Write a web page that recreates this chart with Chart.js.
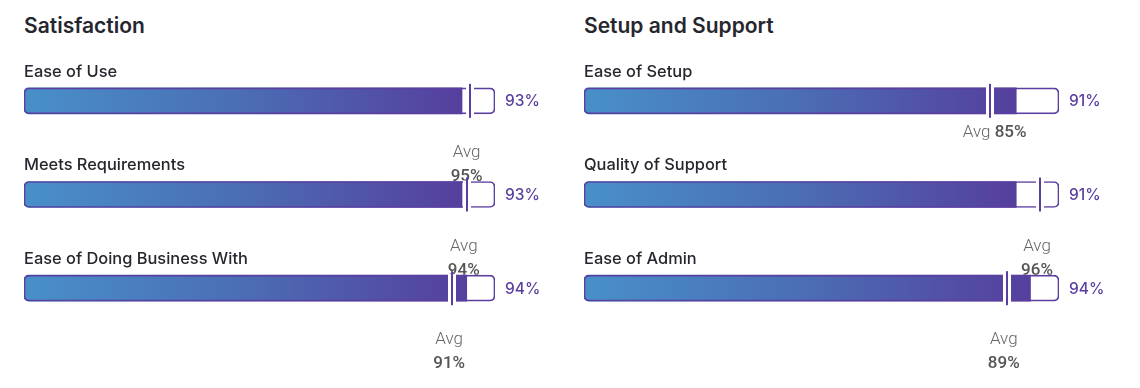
<!DOCTYPE html>
<html>
<head>
<meta charset="utf-8">
<script src="https://cdn.jsdelivr.net/npm/chart.js@4.4.1/dist/chart.umd.min.js"></script>
<style>
  body { margin: 0; background: #fff; width: 1140px; height: 388px; position: relative; overflow: hidden; }
  .panel-title { position: absolute; top: 13px; font-family: Inter, "Noto Sans", sans-serif; font-size: 21px; font-weight: 600; color: #26262e; }
  canvas { position: absolute; top: 0; }
</style>
</head>
<body>
<div class="panel-title" style="left:24px">Satisfaction</div>
<div class="panel-title" style="left:584px">Setup and Support</div>
<canvas id="chartSatisfaction" width="560" height="388" style="left:0"></canvas>
<canvas id="chartSupport" width="580" height="388" style="left:560px"></canvas>

<script>
// satisfaction panel
var satisfactionLabels = ['Ease of Use', 'Meets Requirements', 'Ease of Doing Business With'];
var satisfactionScores = [93, 93, 94];
var satisfactionAvg = [94.6, 94, 90.9];

// setup and support panel
var supportLabels = ['Ease of Setup', 'Quality of Support', 'Ease of Admin'];
var supportScores = [91, 91, 94];
var supportAvg = [85.4, 96, 89];

var purple = '#5b3fa0';

// gradient for the filled part of a bar
function fillGradient(context) {
  var chart = context.chart;
  var area = chart.chartArea;
  if (!area || !chart.scales.x) return '#4c6db5';
  var end = chart.scales.x.getPixelForValue(context.raw);
  var g = chart.ctx.createLinearGradient(area.left, 0, end, 0);
  g.addColorStop(0, '#4890c9');
  g.addColorStop(0.5, '#4b6db4');
  g.addColorStop(1, '#563f9d');
  return g;
}

// avg text goes under the bars, markers and labels on top
var ratingPlugin = {
  id: 'ratingPlugin',
  beforeDatasetsDraw: function (chart) {
    var ctx = chart.ctx;
    var x = chart.scales.x;
    var y = chart.scales.y;
    var avg = chart.options.plugins.ratingPlugin.avg;
    var inlineFirst = chart.options.plugins.ratingPlugin.inlineFirst;
    ctx.save();
    ctx.textBaseline = 'middle';
    avg.forEach(function (a, i) {
      var px = x.getPixelForValue(a);
      var bottom = y.getPixelForValue(i) + 13;
      var txt = Math.round(a) + '%';
      if (inlineFirst && i === 0) {
        ctx.font = '300 17px Roboto';
        var w1 = ctx.measureText('Avg ').width;
        ctx.font = '500 17px Roboto';
        var w2 = ctx.measureText(txt).width;
        var start = px + 5 - (w1 + w2) / 2;
        ctx.textAlign = 'left';
        ctx.font = '300 17px Roboto';
        ctx.fillStyle = '#666';
        ctx.fillText('Avg ', start, bottom + 19);
        ctx.font = '500 17px Roboto';
        ctx.fillStyle = '#555';
        ctx.fillText(txt, start + w1, bottom + 19);
      } else {
        ctx.textAlign = 'center';
        ctx.font = '300 17px Roboto';
        ctx.fillStyle = '#666';
        ctx.fillText('Avg', px - 3, bottom + 39);
        ctx.font = '500 17px Roboto';
        ctx.fillStyle = '#555';
        ctx.fillText(txt, px - 3, bottom + 63);
      }
    });
    ctx.restore();
  },
  afterDatasetsDraw: function (chart) {
    var ctx = chart.ctx;
    var x = chart.scales.x;
    var y = chart.scales.y;
    var opts = chart.options.plugins.ratingPlugin;
    ctx.save();
    opts.avg.forEach(function (a, i) {
      var px = Math.round(x.getPixelForValue(a));
      var cy = y.getPixelForValue(i);
      ctx.fillStyle = '#fff';
      ctx.fillRect(px - 4, cy - 14, 8, 28);
      ctx.fillStyle = purple;
      ctx.fillRect(px - 1, cy - 17, 2, 34);
    });
    ctx.textBaseline = 'middle';
    chart.data.labels.forEach(function (label, i) {
      var cy = y.getPixelForValue(i);
      ctx.textAlign = 'left';
      ctx.font = '500 16.4px Inter';
      ctx.fillStyle = '#26262e';
      ctx.fillText(label, chart.chartArea.left, cy - 29);
      ctx.font = '500 15.5px Inter';
      ctx.fillStyle = purple;
      ctx.fillText(opts.scores[i] + '%', chart.chartArea.right + 10, cy + 1);
    });
    ctx.restore();
  }
};

function makeChart(id, labels, scores, avg, rightPad, inlineFirst) {
  var track = labels.map(function () { return 100; });
  var config = {
    type: 'bar',
    data: {
      labels: labels,
      datasets: [
        {
          // outline on top
          data: track,
          backgroundColor: 'rgba(0,0,0,0)',
          borderColor: purple,
          borderWidth: 1,
          borderRadius: 5,
          borderSkipped: false,
          barThickness: 26,
          grouped: false
        },
        {
          data: scores,
          backgroundColor: fillGradient,
          borderWidth: 0,
          borderRadius: { topLeft: 5, bottomLeft: 5, topRight: 0, bottomRight: 0 },
          borderSkipped: false,
          barThickness: 26,
          grouped: false
        },
        {
          // white track behind
          data: track,
          backgroundColor: '#fff',
          borderWidth: 0,
          borderRadius: 5,
          borderSkipped: false,
          barThickness: 26,
          grouped: false
        }
      ]
    },
    options: {
      indexAxis: 'y',
      responsive: false,
      animation: false,
      devicePixelRatio: 1,
      layout: { padding: { left: 24, right: rightPad, top: 54, bottom: 53 } },
      scales: {
        x: { display: false, min: 0, max: 100 },
        y: { display: false }
      },
      plugins: {
        legend: { display: false },
        tooltip: { enabled: false },
        ratingPlugin: { avg: avg, scores: scores, inlineFirst: inlineFirst }
      }
    },
    plugins: [ratingPlugin]
  };
  return new Chart(document.getElementById(id), config);
}

makeChart('chartSatisfaction', satisfactionLabels, satisfactionScores, satisfactionAvg, 65, false);
makeChart('chartSupport', supportLabels, supportScores, supportAvg, 81, true);
</script>
</body>
</html>
